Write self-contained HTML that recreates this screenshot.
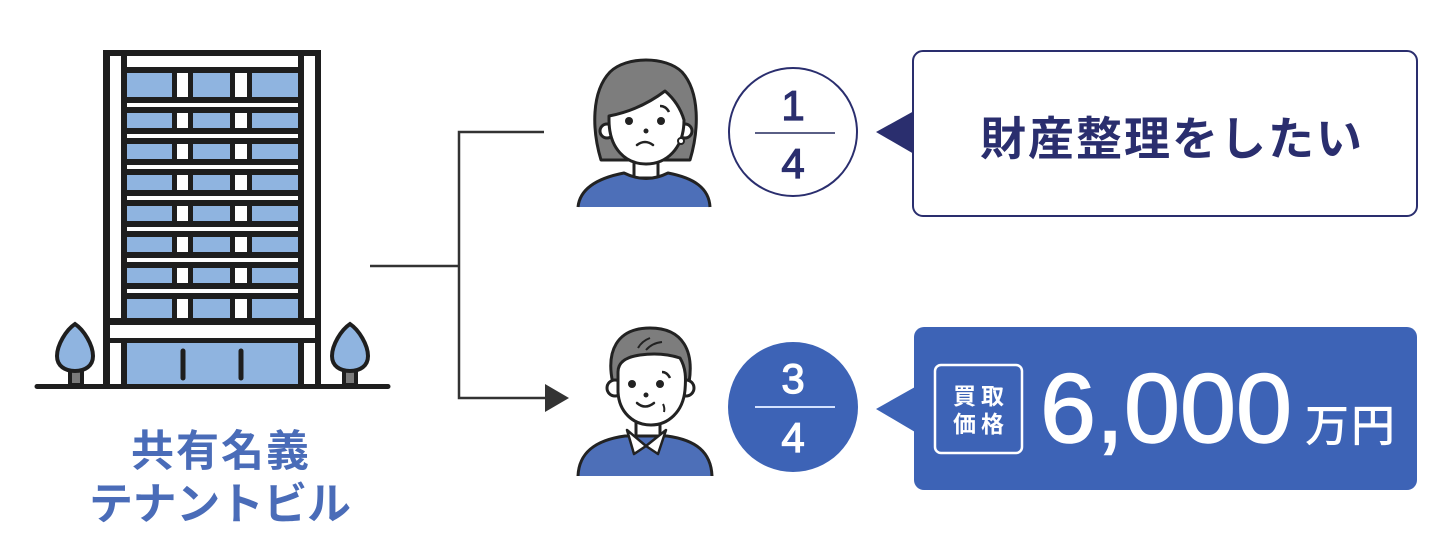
<!DOCTYPE html>
<html><head><meta charset="utf-8"><style>
html,body{margin:0;padding:0;background:#fff;}
svg{display:block;}
.jp{font-family:"Liberation Sans","Noto Sans CJK JP",sans-serif;}
</style></head><body>
<svg width="1440" height="546" viewBox="0 0 1440 546" xmlns="http://www.w3.org/2000/svg">
<rect width="1440" height="546" fill="#fff"/>
<!-- Building -->
<rect x="103" y="50" width="218" height="336" fill="#1e1e1e"/>
<rect x="110" y="56" width="11" height="262" fill="#fff"/>
<rect x="304" y="56" width="11" height="262" fill="#fff"/>
<rect x="127" y="56" width="171" height="11" fill="#fff"/>
<rect x="110" y="325" width="205" height="13" fill="#fff"/>
<rect x="110" y="343" width="11" height="42" fill="#fff"/>
<rect x="304" y="343" width="11" height="42" fill="#fff"/>
<rect x="127" y="343" width="171" height="42" fill="#8fb4e0"/>
<line x1="183" y1="351" x2="183" y2="378" stroke="#1e1e1e" stroke-width="5" stroke-linecap="round"/>
<line x1="241" y1="351" x2="241" y2="378" stroke="#1e1e1e" stroke-width="5" stroke-linecap="round"/>
<g fill="#8fb4e0">
<rect x="127" y="73" width="45" height="24"/><rect x="193" y="73" width="37" height="24"/><rect x="252" y="73" width="46" height="24"/>
<rect x="127" y="113" width="45" height="15"/><rect x="193" y="113" width="37" height="15"/><rect x="252" y="113" width="46" height="15"/>
<rect x="127" y="144" width="45" height="15"/><rect x="193" y="144" width="37" height="15"/><rect x="252" y="144" width="46" height="15"/>
<rect x="127" y="175" width="45" height="15"/><rect x="193" y="175" width="37" height="15"/><rect x="252" y="175" width="46" height="15"/>
<rect x="127" y="206" width="45" height="15"/><rect x="193" y="206" width="37" height="15"/><rect x="252" y="206" width="46" height="15"/>
<rect x="127" y="237" width="45" height="15"/><rect x="193" y="237" width="37" height="15"/><rect x="252" y="237" width="46" height="15"/>
<rect x="127" y="268" width="45" height="15"/><rect x="193" y="268" width="37" height="15"/><rect x="252" y="268" width="46" height="15"/>
<rect x="127" y="299" width="45" height="19"/><rect x="193" y="299" width="37" height="19"/><rect x="252" y="299" width="46" height="19"/>
</g>
<g fill="#fff">
<rect x="177" y="73" width="11" height="24"/><rect x="235" y="73" width="12" height="24"/>
<rect x="177" y="113" width="11" height="15"/><rect x="235" y="113" width="12" height="15"/>
<rect x="177" y="144" width="11" height="15"/><rect x="235" y="144" width="12" height="15"/>
<rect x="177" y="175" width="11" height="15"/><rect x="235" y="175" width="12" height="15"/>
<rect x="177" y="206" width="11" height="15"/><rect x="235" y="206" width="12" height="15"/>
<rect x="177" y="237" width="11" height="15"/><rect x="235" y="237" width="12" height="15"/>
<rect x="177" y="268" width="11" height="15"/><rect x="235" y="268" width="12" height="15"/>
<rect x="177" y="299" width="11" height="19"/><rect x="235" y="299" width="12" height="19"/>
<rect x="127" y="103" width="171" height="4"/>
<rect x="127" y="134" width="171" height="4"/>
<rect x="127" y="165" width="171" height="4"/>
<rect x="127" y="196" width="171" height="4"/>
<rect x="127" y="227" width="171" height="4"/>
<rect x="127" y="258" width="171" height="4"/>
<rect x="127" y="289" width="171" height="4"/>
</g>
<!-- trees -->
<g stroke="#1e1e1e" stroke-width="4">
<rect x="70" y="368" width="12" height="17" fill="#7a7a7a"/>
<path d="M75,324 C66,330 57,345 57,356 C57,366 65,371 75,371 C85,371 93,366 93,356 C93,345 84,330 75,324 Z" fill="#8fb4e0"/>
<rect x="344" y="368" width="12" height="17" fill="#7a7a7a"/>
<path d="M350,324 C341,330 332,345 332,356 C332,366 340,371 350,371 C360,371 368,366 368,356 C368,345 359,330 350,324 Z" fill="#8fb4e0"/>
</g>
<line x1="37" y1="386.5" x2="388" y2="386.5" stroke="#1e1e1e" stroke-width="5" stroke-linecap="round"/>
<!-- labels -->
<text class="jp" x="131" y="466" font-size="43" font-weight="700" fill="#4a6cb8" textLength="178" lengthAdjust="spacing">共有名義</text>
<text class="jp" x="89" y="519" font-size="44" font-weight="700" fill="#4a6cb8" textLength="262" lengthAdjust="spacing">テナントビル</text>
<!-- connectors -->
<g stroke="#333" stroke-width="2.5" fill="none">
<path d="M370,266 H459"/>
<path d="M544,132 H459 V398 H548"/>
</g>
<polygon points="545,384 569,398 545,412" fill="#333"/>
<!-- woman -->
<g stroke="#222" stroke-width="3" stroke-linejoin="round">
<path d="M601,160 C592,130 591,92 610,72 C626,56 666,56 682,72 C700,92 699,130 690,160 Z" fill="#7d7d7d"/>
<path d="M634,155 L634,178 L658,178 L658,155 Z" fill="#fff"/>
<path d="M578,207 C580,188 598,178 624,173 Q646,184 668,173 C694,178 709,188 710,207 Z" fill="#4d6fb8" stroke="none"/>
<path d="M578,207 C580,188 598,178 624,173 Q646,184 668,173 C694,178 709,188 710,207" fill="none"/>
<circle cx="607" cy="131" r="7" fill="#fff"/>
<circle cx="685" cy="131" r="7" fill="#fff"/>
<path d="M609,116 Q640,110 665,91 Q679,103 684,120 C684,149 666,164 646,164 C626,164 609,149 609,120 Z" fill="#fff"/>
<circle cx="681" cy="141" r="3" fill="#fff" stroke-width="2"/>
<path d="M660,106 Q666,106 669,112" fill="none" stroke-width="2.5"/>
<path d="M637,145 Q645,139 653,145" fill="none" stroke-width="2.5" stroke-linecap="round"/>
</g>
<circle cx="629" cy="121" r="4" fill="#222"/>
<circle cx="661" cy="121" r="4" fill="#222"/>
<circle cx="646" cy="131" r="2.5" fill="#222"/>
<!-- man -->
<g stroke="#222" stroke-width="3" stroke-linejoin="round">
<path d="M614,388 C604,350 618,328 650,328 C682,328 696,350 688,388 Z" fill="#7d7d7d"/>
<path d="M636,418 L636,440 L660,440 L660,418 Z" fill="#fff"/>
<path d="M578,476 C579,452 596,440 625,436 L667,436 C696,440 711,452 712,476 Z" fill="#4d6fb8" stroke="none"/>
<path d="M578,476 C579,452 596,440 625,436 L667,436 C696,440 711,452 712,476" fill="none"/>
<circle cx="615" cy="388" r="8" fill="#fff"/>
<circle cx="686" cy="388" r="8" fill="#fff"/>
<path d="M618,372 C618,362 626,357 640,355 Q662,352 680,358 C686,368 686,378 685,390 C683,412 668,425 651,425 C633,425 619,412 618,392 Z" fill="#fff"/>
<path d="M638,348 Q642,341 650,338" fill="none" stroke-width="2"/>
<path d="M646,350 Q652,343 662,342" fill="none" stroke-width="2"/>
<path d="M662,372 Q667,372 670,378" fill="none" stroke-width="2.5"/>
<path d="M637,403 Q645,410 654,403" fill="none" stroke-width="2.5" stroke-linecap="round"/>
<path d="M663,404 Q665,408 664,412" fill="none" stroke-width="2"/>
<path d="M627,430 L646,446 L634,454 Z" fill="#fff" stroke-width="2.5"/>
<path d="M666,430 L646,446 L658,454 Z" fill="#fff" stroke-width="2.5"/>
</g>
<circle cx="632" cy="384" r="4" fill="#222"/>
<circle cx="660" cy="384" r="4" fill="#222"/>
<circle cx="646" cy="395" r="2.5" fill="#222"/>
<!-- circle 1/4 -->
<circle cx="793" cy="132" r="64" fill="#fff" stroke="#2a2e6e" stroke-width="2"/>
<text x="793" y="120" font-family="Liberation Sans, sans-serif" font-size="42" fill="#2a2e6e" stroke="#2a2e6e" stroke-width="1.2" text-anchor="middle">1</text>
<line x1="755" y1="133" x2="835" y2="133" stroke="#5a5f86" stroke-width="2"/>
<text x="793" y="178" font-family="Liberation Sans, sans-serif" font-size="42" fill="#2a2e6e" stroke="#2a2e6e" stroke-width="1.2" text-anchor="middle">4</text>
<!-- circle 3/4 -->
<circle cx="793" cy="407" r="65" fill="#3d63b6"/>
<text x="793" y="393" font-family="Liberation Sans, sans-serif" font-size="42" fill="#fff" stroke="#fff" stroke-width="1.2" text-anchor="middle">3</text>
<line x1="755" y1="407" x2="835" y2="407" stroke="#d4e2ff" stroke-width="2"/>
<text x="793" y="452" font-family="Liberation Sans, sans-serif" font-size="42" fill="#fff" stroke="#fff" stroke-width="1.2" text-anchor="middle">4</text>
<!-- top bubble -->
<rect x="913" y="51" width="504" height="165" rx="10" ry="10" fill="#fff" stroke="#2a2e6e" stroke-width="2"/>
<polygon points="876,132 914,111 914,154" fill="#2a2e6e"/>
<text class="jp" x="980" y="155" font-size="46" font-weight="700" fill="#2a2e6e" textLength="382" lengthAdjust="spacing">財産整理をしたい</text>
<!-- bottom bubble -->
<rect x="914" y="327" width="503" height="163" rx="10" ry="10" fill="#3d63b6"/>
<polygon points="876,409 915,387 915,432" fill="#3d63b6"/>
<rect x="935" y="365" width="87" height="88" rx="6" ry="6" fill="none" stroke="#fff" stroke-width="2.5"/>
<text class="jp" x="953" y="404" font-size="23" font-weight="700" fill="#fff" textLength="51" lengthAdjust="spacing">買取</text>
<text class="jp" x="953" y="432" font-size="23" font-weight="700" fill="#fff" textLength="51" lengthAdjust="spacing">価格</text>
<text x="1040" y="442" font-family="Liberation Sans, sans-serif" font-size="98" fill="#fff" stroke="#fff" stroke-width="1.5" textLength="252" lengthAdjust="spacingAndGlyphs">6,000</text>
<text class="jp" x="1305" y="441" font-size="44" font-weight="500" fill="#fff" textLength="90" lengthAdjust="spacing">万円</text>
</svg>
</body></html>
